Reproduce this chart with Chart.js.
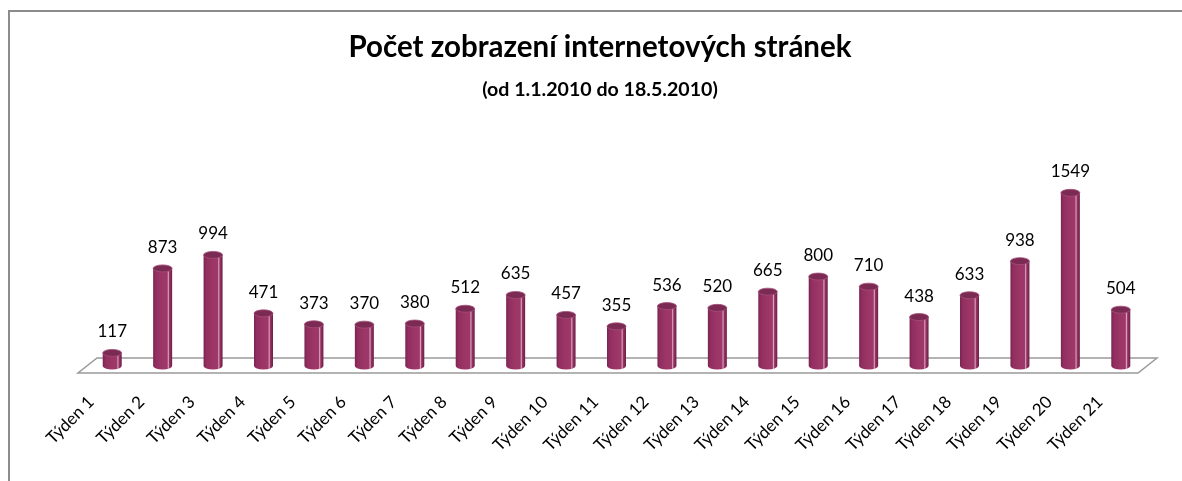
<!DOCTYPE html>
<html>
<head>
<meta charset="utf-8">
<script src="https://cdn.jsdelivr.net/npm/chart.js@4/dist/chart.umd.min.js"></script>
<style>
html,body{margin:0;padding:0;background:#fff;overflow:hidden}
#wrap{position:relative;width:1182px;height:481px}
</style>
</head>
<body>
<div id="wrap"><canvas id="c" width="1182" height="481"></canvas></div>
<script>
const categories = ['Týden 1','Týden 2','Týden 3','Týden 4','Týden 5','Týden 6','Týden 7','Týden 8','Týden 9','Týden 10','Týden 11','Týden 12','Týden 13','Týden 14','Týden 15','Týden 16','Týden 17','Týden 18','Týden 19','Týden 20','Týden 21'];
const pageViews = [117,873,994,471,373,370,380,512,635,457,355,536,520,665,800,710,438,633,938,1549,504];
const titleText = 'Počet zobrazení internetových stránek';
const subtitleText = '(od 1.1.2010 do 18.5.2010)';
const yMin = 0;
const yMax = 2255;

const framePlugin = {
  id: 'frame',
  beforeDraw(chart) {
    const ctx = chart.ctx;
    ctx.save();
    ctx.fillStyle = '#ffffff';
    ctx.fillRect(0, 0, chart.width, chart.height);
    ctx.strokeStyle = '#8c8c8c';
    ctx.lineWidth = 2;
    ctx.beginPath();
    ctx.moveTo(9, chart.height);
    ctx.lineTo(9, 11);
    ctx.lineTo(chart.width, 11);
    ctx.stroke();
    ctx.restore();
  }
};

const floorPlugin = {
  id: 'floor',
  beforeDatasetsDraw(chart) {
    const ctx = chart.ctx;
    const a = chart.chartArea;
    const y0 = chart.scales.y.getPixelForValue(0);
    ctx.save();
    ctx.beginPath();
    ctx.moveTo(a.left - 9, y0 + 7);
    ctx.lineTo(a.right - 8, y0 + 7);
    ctx.lineTo(a.right + 11, y0 - 8);
    ctx.lineTo(a.left + 10, y0 - 8);
    ctx.closePath();
    ctx.fillStyle = '#ffffff';
    ctx.fill();
    ctx.strokeStyle = '#9a9a9a';
    ctx.lineWidth = 1.5;
    ctx.stroke();
    ctx.restore();
  }
};

const cylinderPlugin = {
  id: 'cylinders',
  afterDatasetsDraw(chart) {
    const ctx = chart.ctx;
    const meta = chart.getDatasetMeta(0);
    const values = chart.data.datasets[0].data;
    meta.data.forEach((el, i) => {
      const p = el.getProps(['x', 'y', 'base', 'width'], true);
      const w = p.width, x = p.x, top = p.y, base = p.base;
      const l = x - w / 2, r = x + w / 2, ry = 3.5;
      ctx.save();
      const g = ctx.createLinearGradient(l, 0, r, 0);
      g.addColorStop(0, '#7a2450');
      g.addColorStop(0.15, '#922f60');
      g.addColorStop(0.5, '#9c3667');
      g.addColorStop(0.74, '#9e3869');
      g.addColorStop(0.8, '#d9a2bd');
      g.addColorStop(0.86, '#983365');
      g.addColorStop(1, '#6c1f45');
      ctx.beginPath();
      ctx.moveTo(l, top);
      ctx.lineTo(l, base);
      ctx.ellipse(x, base, w / 2, ry, 0, Math.PI, 0, true);
      ctx.lineTo(r, top);
      ctx.closePath();
      ctx.fillStyle = g;
      ctx.fill();
      ctx.beginPath();
      ctx.ellipse(x, top, w / 2, ry, 0, 0, Math.PI * 2);
      ctx.fillStyle = '#7b2a53';
      ctx.fill();
      ctx.strokeStyle = '#a44f7a';
      ctx.lineWidth = 0.8;
      ctx.stroke();
      ctx.fillStyle = '#000000';
      ctx.font = '17px Lato';
      ctx.textAlign = 'center';
      ctx.textBaseline = 'middle';
      ctx.fillText(String(values[i]), x, top - 21);
      ctx.restore();
    });
  }
};

new Chart(document.getElementById('c'), {
  type: 'bar',
  data: {
    labels: categories,
    datasets: [{
      data: pageViews,
      backgroundColor: 'rgba(0,0,0,0)',
      borderWidth: 0,
      barThickness: 19
    }]
  },
  options: {
    responsive: false,
    devicePixelRatio: 1,
    animation: false,
    layout: { padding: { left: 54, right: 36, top: 0, bottom: 0 } },
    plugins: {
      legend: { display: false },
      tooltip: { enabled: false },
      title: {
        display: true,
        text: titleText,
        color: '#000',
        font: { family: 'Lato', size: 29.5, weight: 'bold', lineHeight: 1.2 },
        padding: { top: 30, bottom: 0 }
      },
      subtitle: {
        display: true,
        text: subtitleText,
        color: '#000',
        font: { family: 'Lato', size: 19.6, weight: 'bold', lineHeight: 1.2 },
        padding: { top: 13, bottom: 12 }
      }
    },
    scales: {
      x: {
        grid: { display: false, drawTicks: false },
        border: { display: false },
        ticks: {
          autoSkip: false,
          minRotation: 45,
          maxRotation: 45,
          padding: 26,
          labelOffset: -21,
          color: '#000',
          font: { family: 'Lato', size: 17 }
        },
        afterFit(scale) { scale.height = 115; }
      },
      y: {
        min: yMin,
        max: yMax,
        grid: { display: false, drawTicks: false },
        border: { display: false },
        ticks: { display: false },
        afterFit(scale) { scale.width = 33; }
      }
    }
  },
  plugins: [framePlugin, floorPlugin, cylinderPlugin]
});
</script>
</body>
</html>
